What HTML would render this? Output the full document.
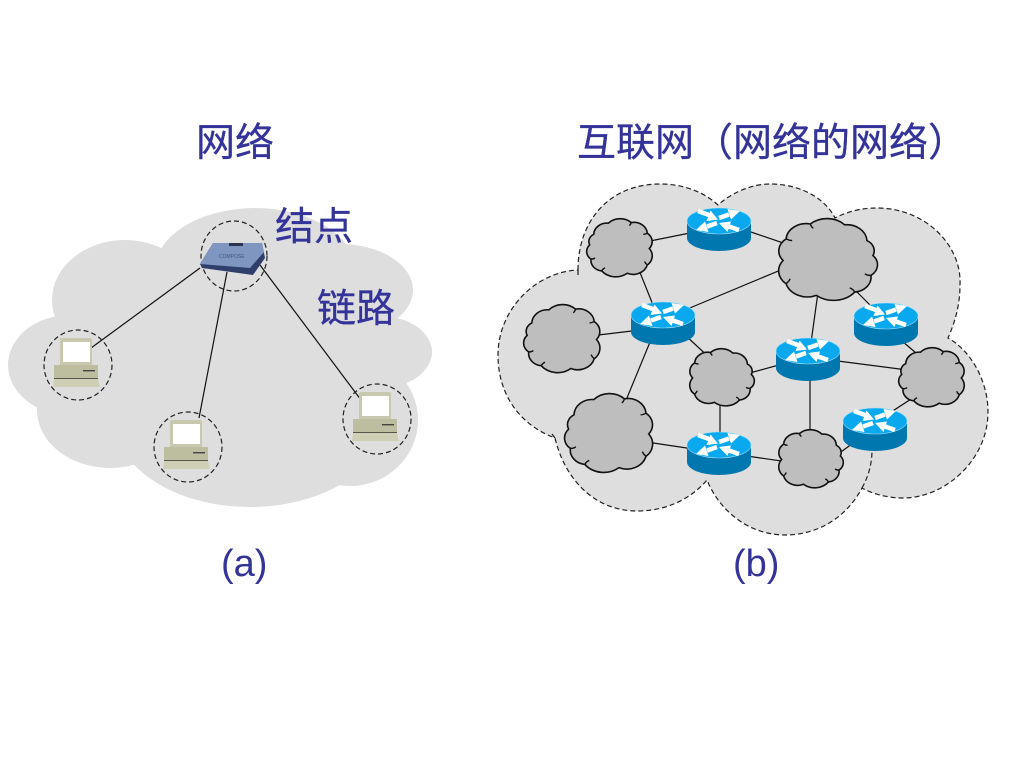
<!DOCTYPE html>
<html><head><meta charset="utf-8"><style>
html,body{margin:0;padding:0;background:#fff}
svg{display:block}
text{font-family:"Liberation Sans","Noto Sans CJK SC",sans-serif;fill:#333399}
.z{stroke:#333399;stroke-width:.3}
.l{stroke:#111;stroke-width:1.2;fill:none}
.d{stroke:#222;stroke-width:1.2;stroke-dasharray:5 3;fill:none}
.c{fill:#bebebe;stroke:#111;stroke-width:1.6;vector-effect:non-scaling-stroke}
.h{fill:none;stroke:#111;stroke-width:1.4;vector-effect:non-scaling-stroke}
</style></head><body>
<svg width="1024" height="768" viewBox="0 0 1024 768" xmlns="http://www.w3.org/2000/svg">
<defs>
<g id="cl">
<path class="c" d="M10 26A20 20 0 0 1 32 7A24 24 0 0 1 66 6A20 20 0 0 1 90 24A18 18 0 0 1 93 50A20 20 0 0 1 90 78A22 22 0 0 1 60 92A27 27 0 0 1 22 88A18 18 0 0 1 6 68A16 16 0 0 1 4 44A14 14 0 0 1 10 26Z"/>
<path class="h" d="M66 6q-1 4-3 5M90 24q-3 2-6 2M90 78q-3-3-4-6M22 88q2-4 5-5M6 68q4 0 6-2"/>
</g>
<g id="rt">
<path d="M-32 0V17A32 13 0 0 0 32 17V0Z" fill="#0077ae"/>
<ellipse cx="0" cy="0" rx="32" ry="13" fill="#0aa8ee" stroke="#9fe0f8" stroke-width=".6"/>
<g fill="#fff" stroke="none">
<path d="M-1 -1.5L-12.5 0L-8.5 -10.5Z"/>
<path d="M21 -10L12 -1.5L8.5 -12Z"/>
<path d="M-23 9L-10.5 11L-14 0.5Z"/>
<path d="M0 2L8.5 11L12 .5Z"/>
</g>
<g stroke="#fff" stroke-width="4.5">
<line x1="-21" y1="-10" x2="-10" y2="-6"/>
<line x1="0" y1="-3" x2="10" y2="-6.5"/>
<line x1="-2" y1="2" x2="-12" y2="5.5"/>
<line x1="20" y1="9" x2="10" y2="5.5"/>
</g>
</g>
<g id="pc">
<rect x="-18" y="-27" width="32" height="28" rx="2" fill="#c8c8ae"/>
<rect x="-15" y="-23" width="27" height="20" fill="#fff"/>
<rect x="-24" y="0" width="44" height="13" fill="#bdbd9f"/>
<rect x="-24" y="13" width="44" height="1.2" fill="#55554a"/>
<path d="M-24 14H20L22 22H-25Z" fill="#cfcfb5"/>
<rect x="5" y="5" width="12" height="1.4" fill="#444"/>
</g>
</defs>

<g fill="#dedede">
<ellipse cx="255" cy="270" rx="100" ry="62"/>
<ellipse cx="125" cy="300" rx="73" ry="60"/>
<ellipse cx="340" cy="290" rx="73" ry="46"/>
<ellipse cx="380" cy="352" rx="52" ry="36"/>
<ellipse cx="70" cy="365" rx="62" ry="50"/>
<ellipse cx="110" cy="410" rx="73" ry="58"/>
<ellipse cx="250" cy="420" rx="135" ry="87"/>
<ellipse cx="350" cy="420" rx="68" ry="66"/>
<ellipse cx="230" cy="350" rx="170" ry="100"/>
</g>
<line class="l" x1="200" y1="268" x2="91" y2="348"/>
<line class="l" x1="227" y1="272" x2="199" y2="418"/>
<line class="l" x1="260" y1="265" x2="361" y2="400"/>
<ellipse class="d" cx="234" cy="256" rx="33" ry="35"/>
<ellipse class="d" cx="78" cy="365" rx="34" ry="35"/>
<ellipse class="d" cx="188" cy="447" rx="34" ry="35"/>
<ellipse class="d" cx="377" cy="419" rx="34" ry="35"/>
<use href="#pc" x="78" y="365"/>
<use href="#pc" x="188" y="447"/>
<use href="#pc" x="377" y="419"/>
<path d="M200 264L213 243L262 243L265 258L253 275L202 268Z" fill="#2f3f6b"/>
<path d="M200 264L213 243L262 243L264 252L250 268Z" fill="#7f96c0"/>
<rect x="229" y="243" width="14" height="3" fill="#2a3350"/>
<text x="219" y="258" font-size="5" style="fill:#44557f">COMPOSE</text>

<path class="d" style="fill:#dedede" d="M578 270C578 220 610 184 660 184C685 184 705 193 718 205C735 190 755 184 770 184C800 184 825 198 835 218C850 210 865 208 877 208C925 208 962 245 960 285C960 305 955 322 948 338C970 350 988 380 988 412C988 460 945 498 903 498C888 498 873 494 862 488C845 520 815 535 785 535C750 535 720 512 707 480C690 500 665 511 637 511C595 511 565 480 555 438C520 425 498 395 498 355C498 310 535 272 578 270Z"/>
<path class="d" d="M862 488Q872 470 872 450M578 270V277M555 438L552 434"/>

<g class="l">
<line x1="645" y1="242" x2="695" y2="232"/>
<line x1="745" y1="230" x2="795" y2="247"/>
<line x1="635" y1="260" x2="655" y2="310"/>
<line x1="685" y1="310" x2="795" y2="264"/>
<line x1="590" y1="336" x2="640" y2="330"/>
<line x1="655" y1="330" x2="622" y2="410"/>
<line x1="685" y1="335" x2="712" y2="360"/>
<line x1="819" y1="285" x2="810" y2="350"/>
<line x1="850" y1="285" x2="875" y2="310"/>
<line x1="895" y1="335" x2="930" y2="365"/>
<line x1="830" y1="360" x2="915" y2="371"/>
<line x1="735" y1="377" x2="790" y2="362"/>
<line x1="810" y1="365" x2="810" y2="445"/>
<line x1="720" y1="390" x2="720" y2="440"/>
<line x1="640" y1="441" x2="700" y2="450"/>
<line x1="740" y1="455" x2="795" y2="463"/>
<line x1="830" y1="460" x2="860" y2="438"/>
<line x1="885" y1="416" x2="925" y2="390"/>
</g>

<use href="#cl" transform="translate(587 219) scale(.67 .59)"/>
<use href="#cl" transform="translate(877 219) scale(-1.01 .83)"/>
<use href="#cl" transform="translate(524 305) scale(.78 .69)"/>
<use href="#cl" transform="translate(754 349) scale(-.66 .58)"/>
<use href="#cl" transform="translate(899 348) scale(.67 .6)"/>
<use href="#cl" transform="translate(565 394) scale(.9 .8)"/>
<use href="#cl" transform="translate(843 430) scale(-.66 .59)"/>

<use href="#rt" x="719" y="221"/>
<use href="#rt" x="663" y="315"/>
<use href="#rt" x="886" y="316"/>
<use href="#rt" x="808" y="351"/>
<use href="#rt" x="875" y="421"/>
<use href="#rt" x="719" y="445"/>

<text class="z" x="196" y="156" font-size="39">网络</text>
<text class="z" x="577" y="156" font-size="39">互联网（网络的网络）</text>
<text class="z" x="275" y="240" font-size="39">结点</text>
<text class="z" x="317" y="322" font-size="39">链路</text>
<text x="221" y="576" font-size="38">(a)</text>
<text x="733" y="576" font-size="38">(b)</text>
</svg>
</body></html>
